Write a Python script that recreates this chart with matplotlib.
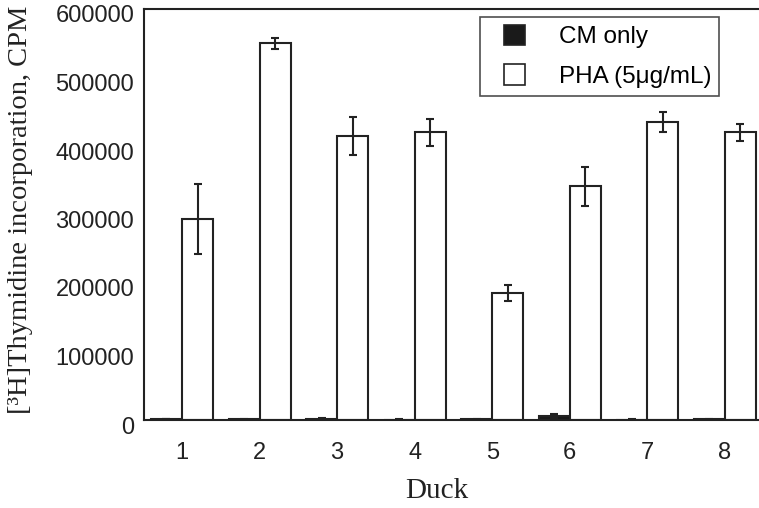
import matplotlib
matplotlib.use("Agg")
import matplotlib.pyplot as plt
import matplotlib.transforms as mtransforms
from matplotlib.patches import Rectangle
from matplotlib.legend_handler import HandlerBase
import numpy as np

ducks = [1, 2, 3, 4, 5, 6, 7, 8]
cm_only = [1500, 1000, 2000, 500, 1000, 6000, 500, 1000]
cm_err = [500, 300, 1500, 300, 800, 2500, 300, 600]
pha = [293000, 550000, 415000, 420000, 185000, 341000, 435000, 420000]
pha_err = [51000, 8000, 28000, 19500, 12000, 28500, 15000, 12000]
yticks = [0, 100000, 200000, 300000, 400000, 500000, 600000]


class SquareHandler(HandlerBase):
    def create_artists(self, legend, orig_handle, xdescent, ydescent, width, height,
                       fontsize, trans):
        s = height
        r = Rectangle((width - s - xdescent, -ydescent), s, s,
                      facecolor=orig_handle.get_facecolor(),
                      edgecolor=orig_handle.get_edgecolor(),
                      linewidth=1.2, transform=trans)
        return [r]


fig = plt.figure(figsize=(7.59, 5.08), dpi=100)
ax = fig.add_axes([144/759, 88/508, 1 - 144/759, (420 - 9)/508])

x = np.array(ducks, dtype=float)
w = 0.4
ec = "#222222"
b1 = ax.bar(x - w/2, cm_only, width=w, color="#1a1a1a", edgecolor=ec, linewidth=1.5,
            yerr=cm_err, error_kw=dict(ecolor=ec, elinewidth=1.5, capsize=3, capthick=1.5),
            label="CM only")
b2 = ax.bar(x + w/2, pha, width=w, color="white", edgecolor=ec, linewidth=1.5,
            yerr=pha_err, error_kw=dict(ecolor=ec, elinewidth=1.5, capsize=3, capthick=1.5),
            label="PHA (5μg/mL)")

ax.set_xlim(0.51, 8.44)
ax.set_ylim(0, 600000)
ax.set_xticks(x)
ax.set_xticklabels([str(d) for d in ducks], fontsize=17, family="Liberation Sans")
ax.set_yticks(yticks)
ax.set_yticklabels([str(v) for v in yticks], fontsize=17, family="Liberation Sans")
ax.tick_params(axis="both", length=0, pad=7, colors="#222222")
ax.tick_params(axis="x", pad=16)

offset = mtransforms.ScaledTranslation(0, -5/100, fig.dpi_scale_trans)
for lab in ax.get_yticklabels():
    lab.set_transform(lab.get_transform() + offset)

for s in ["left", "top", "bottom"]:
    ax.spines[s].set_linewidth(1.5)
    ax.spines[s].set_color(ec)
ax.spines["right"].set_visible(False)

ax.set_ylabel("[³H]Thymidine incorporation, CPM", fontsize=20.5,
              family="Liberation Serif", color="#222222")
ax.yaxis.set_label_coords(-(144 - 33) / 615, (420 - 210) / 411)
ax.set_xlabel("Duck", fontsize=21, family="Liberation Serif", color="#222222")
ax.xaxis.set_label_coords((437 - 144) / 615, -(478 - 420) / 411)

leg = ax.legend([b1.patches[0], b2.patches[0]], ["CM only", "PHA (5μg/mL)"],
                handler_map={Rectangle: SquareHandler()},
                loc="upper right", frameon=True,
                fancybox=False, edgecolor=ec, prop=dict(family="Liberation Sans", size=17.5),
                handlelength=1.52, handleheight=0.92, borderpad=0.32, labelspacing=0.66,
                handletextpad=1.4, borderaxespad=0)
leg.get_frame().set_linewidth(1.2)
leg.set_bbox_to_anchor(((719 - 144) / 615, (420 - 17) / 411), transform=ax.transAxes)

fig.savefig("out.png", dpi=100)
